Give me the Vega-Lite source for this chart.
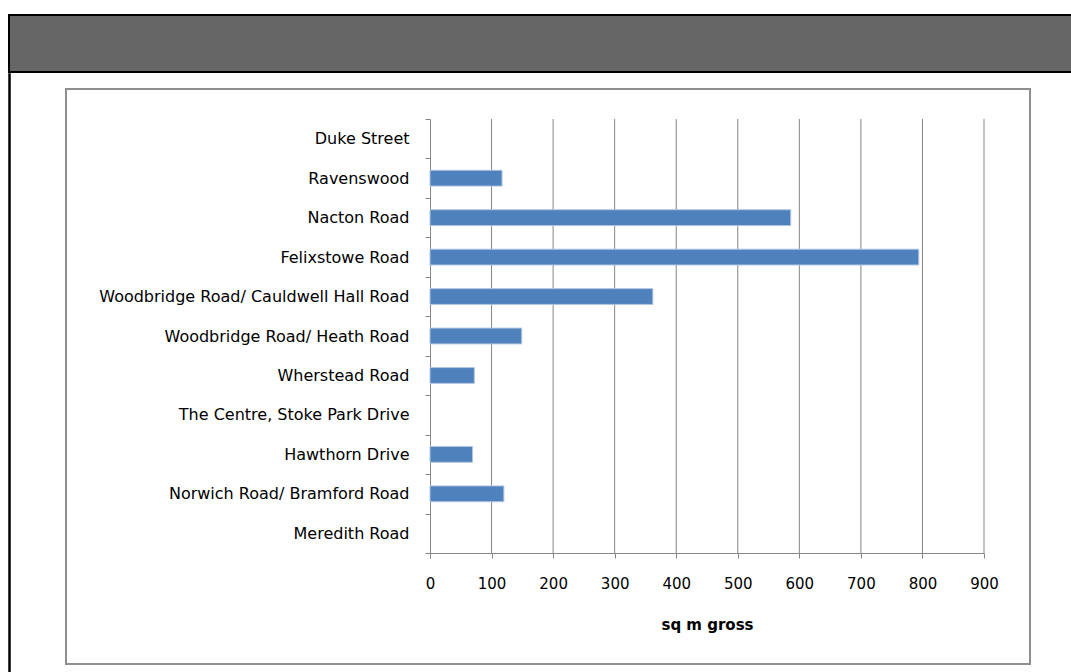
{
  "$schema": "https://vega.github.io/schema/vega-lite/v6.json",
  "background": "white",
  "padding": {"left": 8, "top": 14, "right": 0, "bottom": 0},
  "config": {"view": {"stroke": null}, "concat": {"spacing": 0}},
  "spacing": 0,
  "vconcat": [
    {
      "width": 1080,
      "height": 57,
      "data": {"values": []},
      "mark": {"type": "text"},
      "encoding": {"text": {"value": ""}},
      "view": {"fill": "#666666", "stroke": "#000000", "strokeWidth": 2}
    },
    {
      "spacing": 54,
      "hconcat": [
        {
          "width": 1,
          "height": 620,
          "data": {"values": []},
          "mark": {"type": "text"},
          "encoding": {"text": {"value": ""}},
          "view": {"stroke": "#000000", "strokeWidth": 1.5}
        },
        {
          "spacing": 5,
          "vconcat": [
            {
              "width": 1,
              "height": 1,
              "data": {"values": []},
              "mark": {"type": "text"},
              "encoding": {"text": {"value": ""}}
            },
            {
              "width": 964,
              "height": 575,
              "view": {"stroke": "#8f8f8f", "strokeWidth": 2},
              "data": {"values": [
                {"site": "Duke Street", "area": null},
                {"site": "Ravenswood", "area": 117},
                {"site": "Nacton Road", "area": 586},
                {"site": "Felixstowe Road", "area": 794},
                {"site": "Woodbridge Road/ Cauldwell Hall Road", "area": 362},
                {"site": "Woodbridge Road/ Heath Road", "area": 149},
                {"site": "Wherstead Road", "area": 72},
                {"site": "The Centre, Stoke Park Drive", "area": null},
                {"site": "Hawthorn Drive", "area": 69},
                {"site": "Norwich Road/ Bramford Road", "area": 120},
                {"site": "Meredith Road", "area": null}
              ]},
              "layer": [
                {
                  "data": {"values": [{"v": 100}, {"v": 200}, {"v": 300}, {"v": 400}, {"v": 500}, {"v": 600}, {"v": 700}, {"v": 800}, {"v": 900}]},
                  "mark": {"type": "rule", "color": "#868686", "strokeWidth": 1},
                  "encoding": {
                    "x": {"field": "v", "type": "quantitative", "scale": {"domain": [0, 900], "range": [364, 918], "nice": false, "zero": true}},
                    "y": {"datum": 0, "type": "quantitative", "scale": {"domain": [0, 1], "range": [464, 30]}, "axis": null},
                    "y2": {"datum": 1}
                  }
                },
                {
                  "mark": {"type": "bar", "color": "#4F81BD", "stroke": "#AFC4E2", "strokeWidth": 1, "height": {"band": 0.4}},
                  "encoding": {
                    "y": {
                      "field": "site", "type": "nominal", "sort": null,
                      "scale": {"domain": ["Duke Street", "Ravenswood", "Nacton Road", "Felixstowe Road", "Woodbridge Road/ Cauldwell Hall Road", "Woodbridge Road/ Heath Road", "Wherstead Road", "The Centre, Stoke Park Drive", "Hawthorn Drive", "Norwich Road/ Bramford Road", "Meredith Road"], "range": [30, 464], "paddingInner": 0, "paddingOuter": 0},
                      "axis": {"orient": "left", "offset": -364, "title": null, "grid": false, "tickBand": "extent", "tickSize": 5, "tickColor": "#868686", "domainColor": "#868686", "labelFont": "DejaVu Sans", "labelFontSize": 16, "labelColor": "#000000", "labelPadding": 16, "labelLimit": 500}
                    },
                    "x": {
                      "field": "area", "type": "quantitative",
                      "scale": {"domain": [0, 900], "range": [364, 918], "nice": false, "zero": true},
                      "axis": {"orient": "bottom", "offset": -111, "title": "sq m gross", "grid": false, "values": [0, 100, 200, 300, 400, 500, 600, 700, 800, 900], "tickSize": 5, "tickColor": "#868686", "domainColor": "#868686", "labelFont": "DejaVu Sans", "labelFontSize": 15, "labelColor": "#000000", "labelPadding": 18, "labelFlush": false, "titleFont": "DejaVu Sans", "titleFontSize": 15, "titleFontWeight": "bold", "titleColor": "#000000", "titlePadding": 26}
                    }
                  }
                }
              ],
              "resolve": {"scale": {"y": "independent"}}
            }
          ]
        }
      ]
    }
  ]
}
